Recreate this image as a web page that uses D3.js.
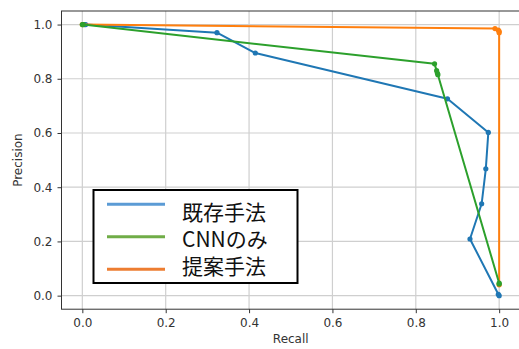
<!DOCTYPE html>
<html>
<head>
<meta charset="utf-8">
<script src="https://cdn.jsdelivr.net/npm/d3@7"></script>
<style>
	body { margin: 0; background: #fff; }
	svg { display: block; }
	.tick text { font-family: "DejaVu Sans", sans-serif; font-size: 12px; fill: #333; }
</style>
</head>
<body>
<div id="stage"></div>
<script>
// Precision-recall curves
var existingRecall    = [0.005, 0.008, 0.323, 0.415, 0.876, 0.974, 0.968, 0.958, 0.930, 0.998, 1.0];
var existingPrecision = [1.0, 1.0, 0.970, 0.895, 0.726, 0.602, 0.468, 0.339, 0.209, 0.005, 0.0];

var cnnRecall    = [0.0, 0.002, 0.845, 0.850, 0.852, 0.853, 1.0, 1.0];
var cnnPrecision = [1.0, 1.0, 0.855, 0.830, 0.820, 0.815, 0.046, 0.043];

var proposedRecall    = [0.0, 0.990, 0.998, 1.0, 1.0, 1.0];
var proposedPrecision = [1.0, 0.985, 0.980, 0.975, 0.970, 0.040];

var xTicks = [0.0, 0.2, 0.4, 0.6, 0.8, 1.0];
var yTicks = [0.0, 0.2, 0.4, 0.6, 0.8, 1.0];

var legendLabels = ['既存手法', 'CNNのみ', '提案手法'];
var legendColors = ['#5b9bd5', '#70ad47', '#ed7d31'];

(function() {
	var width = 519, height = 349;
	var pLeft = 61.5, pRight = 520, pTop = 11, pBottom = 309.2;

	var svg = d3.select('#stage').append('svg')
		.attr('width', width)
		.attr('height', height);

	var x = d3.scaleLinear().domain([-0.05, 1.05]).range([pLeft, pRight]);
	var y = d3.scaleLinear().domain([-0.05, 1.05]).range([pBottom, pTop]);

	// grid
	var grid = svg.append('g');
	grid.selectAll('line.gx')
		.data(xTicks)
		.enter()
		.append('line')
		.attr('class', 'gx')
		.attr('x1', function(d) { return x(d); })
		.attr('x2', function(d) { return x(d); })
		.attr('y1', pTop)
		.attr('y2', pBottom)
		.attr('stroke', '#cfcfcf')
		.attr('stroke-width', 1.2);
	grid.selectAll('line.gy')
		.data(yTicks)
		.enter()
		.append('line')
		.attr('class', 'gy')
		.attr('x1', pLeft)
		.attr('x2', pRight)
		.attr('y1', function(d) { return y(d); })
		.attr('y2', function(d) { return y(d); })
		.attr('stroke', '#cfcfcf')
		.attr('stroke-width', 1.2);

	// axes
	var xAxis = d3.axisBottom(x).tickValues(xTicks).tickFormat(d3.format('.1f')).tickSizeOuter(0).tickSize(4).tickPadding(5);
	var yAxis = d3.axisLeft(y).tickValues(yTicks).tickFormat(d3.format('.1f')).tickSizeOuter(0).tickSize(4).tickPadding(5);

	var gx = svg.append('g').attr('transform', 'translate(0,' + pBottom + ')').call(xAxis);
	var gy = svg.append('g').attr('transform', 'translate(' + pLeft + ',0)').call(yAxis);
	gx.select('.domain').remove();
	gy.select('.domain').remove();
	svg.selectAll('.tick line').attr('stroke', '#333');

	svg.append('rect')
		.attr('x', pLeft)
		.attr('y', pTop)
		.attr('width', pRight - pLeft)
		.attr('height', pBottom - pTop)
		.attr('fill', 'none')
		.attr('stroke', '#333')
		.attr('stroke-width', 1);

	svg.append('text')
		.attr('x', (pLeft + pRight) / 2)
		.attr('y', 343)
		.attr('text-anchor', 'middle')
		.style('font-family', 'DejaVu Sans, sans-serif')
		.style('font-size', '12px')
		.style('fill', '#333')
		.text('Recall');

	svg.append('text')
		.attr('transform', 'translate(22,' + ((pTop + pBottom) / 2) + ') rotate(-90)')
		.attr('text-anchor', 'middle')
		.style('font-family', 'DejaVu Sans, sans-serif')
		.style('font-size', '12px')
		.style('fill', '#333')
		.text('Precision');

	// curves
	var series = [
		{ xs: existingRecall, ys: existingPrecision, color: '#1f77b4' },
		{ xs: proposedRecall, ys: proposedPrecision, color: '#ff7f0e' },
		{ xs: cnnRecall, ys: cnnPrecision, color: '#2ca02c' }
	];

	var line = d3.line()
		.x(function(d) { return x(d[0]); })
		.y(function(d) { return y(d[1]); });

	series.forEach(function(s) {
		var pts = d3.zip(s.xs, s.ys);
		var g = svg.append('g');
		g.append('path')
			.datum(pts)
			.attr('d', line)
			.attr('fill', 'none')
			.attr('stroke', s.color)
			.attr('stroke-width', 2)
			.attr('stroke-linejoin', 'round');
		g.selectAll('circle')
			.data(pts)
			.enter()
			.append('circle')
			.attr('cx', function(d) { return x(d[0]); })
			.attr('cy', function(d) { return y(d[1]); })
			.attr('r', 2.6)
			.attr('fill', s.color);
	});

	// legend (pasted-on box)
	var legend = svg.append('g');
	legend.append('rect')
		.attr('x', 93.5)
		.attr('y', 190)
		.attr('width', 204)
		.attr('height', 93)
		.attr('fill', '#fff')
		.attr('stroke', '#000')
		.attr('stroke-width', 2);

	var rowsY = [204.3, 236.7, 269.2];
	legend.selectAll('line')
		.data(legendLabels)
		.enter()
		.append('line')
		.attr('x1', 107)
		.attr('x2', 165)
		.attr('y1', function(d, i) { return rowsY[i]; })
		.attr('y2', function(d, i) { return rowsY[i]; })
		.attr('stroke', function(d, i) { return legendColors[i]; })
		.attr('stroke-width', 3);

	legend.selectAll('text')
		.data(legendLabels)
		.enter()
		.append('text')
		.attr('x', 182)
		.attr('y', function(d, i) { return [219.5, 247, 274][i]; })
		.style('font-family', '"Noto Sans CJK JP", sans-serif')
		.style('font-size', '21px')
		.style('fill', '#111')
		.text(function(d) { return d; });
})();
</script>
</body>
</html>
